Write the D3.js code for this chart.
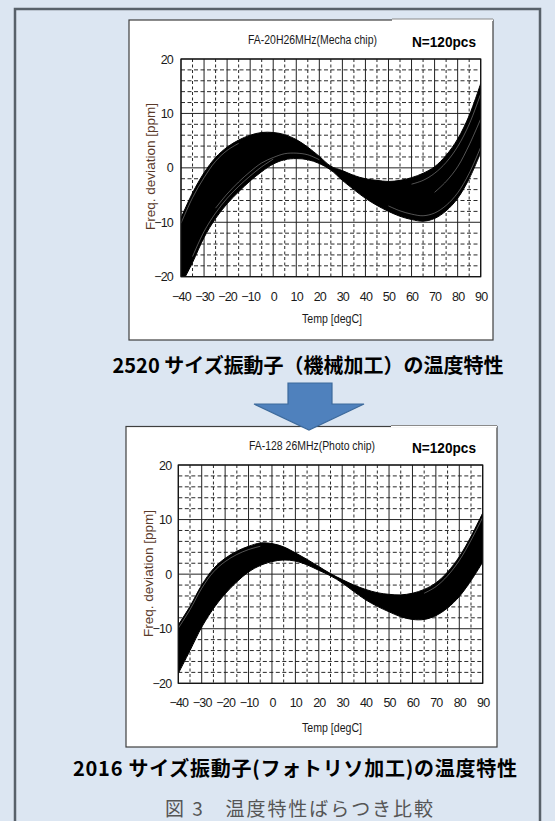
<!DOCTYPE html>
<html>
<head>
<meta charset="utf-8">
<script src="https://cdn.jsdelivr.net/npm/d3@7"></script>
<style>
  html, body { margin: 0; padding: 0; background: #dce6f2; }
  svg { display: block; }
</style>
</head>
<body>
<script>
// Temperature sample points (degC) shared by every curve
const temps = [-40,-35,-30,-25,-20,-15,-10,-5,0,5,10,15,20,25,30,35,40,45,50,55,60,65,70,75,80,85,90];
const xTicks = [-40,-30,-20,-10,0,10,20,30,40,50,60,70,80,90];
const yTicks = [-20,-10,0,10,20];

// 2520 mechanically processed blanks: envelope of the 120 curves (ppm)
const mechaUpper = [-9.2,-4.6,-0.9,1.9,3.8,5.1,6.0,6.5,6.5,6.1,5.2,3.8,2.1,0.3,-0.5,-1.4,-2.0,-2.3,-2.5,-2.3,-1.8,-1.0,0.2,2.3,5.3,9.6,15.5];
const mechaLower = [-21.5,-17.4,-12.8,-9.3,-6.6,-4.4,-2.4,-0.7,0.7,1.5,1.7,1.5,0.8,-0.4,-2.3,-4.0,-5.6,-6.9,-8.0,-8.9,-9.5,-9.8,-9.3,-7.9,-5.6,-2.0,2.8];
// separated individual curves that show as light seams inside the band
const mechaSeams = [
  [-10.2,-5.5,-1.8,1.2,3.2,4.5,null,null,null,null,null,null,null,null,null,null,null,null,null,null,null,null,null,null,null,null,null],
  [null,-16.3,-11.7,-8.3,-5.6,-3.4,-1.5,0.2,1.6,null,null,null,null,null,null,null,null,null,null,null,null,null,null,null,null,null,null],
  [null,null,null,-7.4,-4.8,-2.6,-0.7,0.9,1.9,2.6,2.7,2.4,1.5,null,null,null,null,null,null,null,null,null,null,null,null,null,null],
  [null,null,null,null,null,null,null,null,null,null,null,null,null,null,null,null,null,null,null,null,-3.0,-2.3,-1.0,1.0,3.9,8.0,13.6],
  [null,null,null,null,null,null,null,null,null,null,null,null,null,null,null,null,null,null,-7.0,-7.9,-8.5,-8.8,-8.3,-6.9,-4.6,-1.0,3.8],
  [null,null,null,null,null,null,null,null,null,null,null,null,null,null,null,null,null,null,null,null,null,null,-4.5,-2.5,0.2,4.2,9.0]
];

// 2016 photolithography processed blanks
const photoUpper = [-9.3,-5.9,-2.0,1.0,2.9,4.2,5.1,5.7,5.6,5.0,3.9,2.7,1.4,0.1,-1.0,-2.0,-2.8,-3.4,-3.7,-3.8,-3.5,-2.8,-1.6,0.4,3.2,6.9,11.2];
const photoLower = [-18.2,-14.0,-9.7,-6.3,-3.6,-1.4,0.4,1.6,2.3,2.6,2.4,1.7,0.7,-0.3,-1.6,-3.2,-4.7,-5.9,-6.9,-7.8,-8.3,-8.3,-7.6,-6.2,-4.1,-1.2,2.2];
const photoSeams = [
  [-9.9,-6.5,-2.6,0.4,2.3,3.6,4.5,5.1,null,null,null,null,null,null,null,null,null,null,null,null,null,null,null,null,null,null,null],
  [null,null,null,null,null,null,null,null,null,null,null,null,null,null,null,null,null,null,null,null,null,-3.5,-2.3,-0.3,2.5,6.2,10.4]
];

const W = 555, H = 821;
const svg = d3.select("body").append("svg").attr("width", W).attr("height", H);

// page background and the outer frame
svg.append("rect").attr("width", W).attr("height", H).attr("fill", "#dce6f2");
svg.append("path")
  .attr("d", "M15,821 L15,9 L540,9 L540,821")
  .attr("fill", "none").attr("stroke", "#58616a").attr("stroke-width", 2.5);

const labelFont = "'Liberation Sans', Arial, sans-serif";

function drawPanel(cfg) {
  const g = svg.append("g");
  // white card
  g.append("rect")
    .attr("x", cfg.box[0]).attr("y", cfg.box[1])
    .attr("width", cfg.box[2] - cfg.box[0]).attr("height", cfg.box[3] - cfg.box[1])
    .attr("fill", "#fff").attr("stroke", "#3f3f3f").attr("stroke-width", 1.2);
  // label box overlapping the top edge
  g.append("line")
    .attr("x1", cfg.tag[0]).attr("x2", cfg.box[2])
    .attr("y1", cfg.box[1]).attr("y2", cfg.box[1])
    .attr("stroke", "#fff").attr("stroke-width", 2);
  g.append("line")
    .attr("x1", cfg.tag[0]).attr("x2", cfg.box[2])
    .attr("y1", cfg.box[1] - 1).attr("y2", cfg.box[1] - 1)
    .attr("stroke", "#8a8a8a").attr("stroke-width", 1);

  const x = d3.scaleLinear().domain([-40, 90]).range([cfg.plot[0], cfg.plot[1]]);
  const y = d3.scaleLinear().domain([-20, 20]).range([cfg.plot[3], cfg.plot[2]]);

  const clipId = "clip" + cfg.id;
  g.append("clipPath").attr("id", clipId).append("rect")
    .attr("x", cfg.plot[0]).attr("y", cfg.plot[2])
    .attr("width", cfg.plot[1] - cfg.plot[0]).attr("height", cfg.plot[3] - cfg.plot[2]);

  // dashed minor grid (every 5 degC, every 2 ppm)
  const minorX = d3.range(-35, 90, 10);
  const minorY = d3.range(-18, 20, 2).filter(v => v % 10 !== 0);
  g.append("g").selectAll("line").data(minorX).join("line")
    .attr("x1", d => x(d)).attr("x2", d => x(d))
    .attr("y1", cfg.plot[2]).attr("y2", cfg.plot[3])
    .attr("stroke", "#111").attr("stroke-width", 0.9).attr("stroke-dasharray", "3,2.5");
  g.append("g").selectAll("line").data(minorY).join("line")
    .attr("x1", cfg.plot[0]).attr("x2", cfg.plot[1])
    .attr("y1", d => y(d)).attr("y2", d => y(d))
    .attr("stroke", "#111").attr("stroke-width", 0.9).attr("stroke-dasharray", "4,2.5");
  // solid major grid
  g.append("g").selectAll("line").data(xTicks).join("line")
    .attr("x1", d => x(d)).attr("x2", d => x(d))
    .attr("y1", cfg.plot[2]).attr("y2", cfg.plot[3])
    .attr("stroke", "#222").attr("stroke-width", 1);
  g.append("g").selectAll("line").data(yTicks).join("line")
    .attr("x1", cfg.plot[0]).attr("x2", cfg.plot[1])
    .attr("y1", d => y(d)).attr("y2", d => y(d))
    .attr("stroke", "#222").attr("stroke-width", 1);

  // band of 120 curves
  const rows = temps.map((t, i) => ({ t, hi: cfg.upper[i], lo: cfg.lower[i] }));
  const band = g.append("g").attr("clip-path", `url(#${clipId})`);
  band.append("path").datum(rows)
    .attr("d", d3.area().x(d => x(d.t)).y0(d => y(d.lo)).y1(d => y(d.hi)).curve(d3.curveCatmullRom))
    .attr("fill", "#000").attr("stroke", "#000").attr("stroke-width", 1);
  cfg.seams.forEach(s => {
    const pts = temps.map((t, i) => ({ t, v: s[i] }));
    band.append("path").datum(pts)
      .attr("d", d3.line().defined(d => d.v !== null).x(d => x(d.t)).y(d => y(d.v)).curve(d3.curveCatmullRom))
      .attr("fill", "none").attr("stroke", "#fff").attr("stroke-width", 0.6).attr("stroke-opacity", 0.55);
  });

  // plot frame
  g.append("rect")
    .attr("x", cfg.plot[0]).attr("y", cfg.plot[2])
    .attr("width", cfg.plot[1] - cfg.plot[0]).attr("height", cfg.plot[3] - cfg.plot[2])
    .attr("fill", "none").attr("stroke", "#111").attr("stroke-width", 1.2);

  // axes labels
  const ax = g.append("g").attr("transform", `translate(0,${cfg.plot[3]})`)
    .call(d3.axisBottom(x).tickValues(xTicks).tickSize(0).tickPadding(cfg.xPad));
  ax.select(".domain").remove();
  ax.selectAll("text").attr("font-family", labelFont).attr("font-size", 12.5)
    .attr("fill", "#1a1a1a").attr("letter-spacing", -0.8);
  const ay = g.append("g").attr("transform", `translate(${cfg.plot[0]},0)`)
    .call(d3.axisLeft(y).tickValues(yTicks).tickSize(0).tickPadding(cfg.yPad));
  ay.select(".domain").remove();
  ay.selectAll("text").attr("font-family", labelFont).attr("font-size", 12.5)
    .attr("fill", "#1a1a1a").attr("letter-spacing", -0.8);

  g.append("text").attr("x", cfg.xTitle[0]).attr("y", cfg.xTitle[1])
    .attr("text-anchor", "middle").attr("dominant-baseline", "central")
    .attr("font-family", labelFont).attr("font-size", 12.5)
    .attr("textLength", 60).attr("lengthAdjust", "spacingAndGlyphs")
    .attr("fill", "#1a1a1a").text("Temp [degC]");
  g.append("text")
    .attr("transform", `translate(${cfg.yTitle[0]},${cfg.yTitle[1]}) rotate(-90)`)
    .attr("text-anchor", "middle").attr("dominant-baseline", "central")
    .attr("font-family", labelFont).attr("font-size", 13)
    .attr("textLength", 127).attr("lengthAdjust", "spacingAndGlyphs")
    .attr("fill", "#5a3a2a").text("Freq. deviation [ppm]");

  g.append("text").attr("x", cfg.sub[0]).attr("y", cfg.sub[1])
    .attr("text-anchor", "middle").attr("dominant-baseline", "central")
    .attr("font-family", labelFont).attr("font-size", 12)
    .attr("textLength", cfg.sub[2]).attr("lengthAdjust", "spacingAndGlyphs")
    .attr("fill", "#1a1a1a").text(cfg.subtitle);
  g.append("text").attr("x", 444).attr("y", cfg.sub[1] + 1.5)
    .attr("text-anchor", "middle").attr("dominant-baseline", "central")
    .attr("font-family", labelFont).attr("font-size", 15).attr("font-weight", "bold")
    .attr("textLength", 64).attr("lengthAdjust", "spacingAndGlyphs")
    .attr("fill", "#000").text("N=120pcs");
}

drawPanel({
  id: "a", box: [129, 20, 493, 340], tag: [392],
  plot: [181, 480.7, 59, 276.7],
  upper: mechaUpper, lower: mechaLower, seams: mechaSeams,
  xPad: 15, yPad: 8,
  xTitle: [332, 319], yTitle: [150, 166.5],
  sub: [312.5, 40, 129], subtitle: "FA-20H26MHz(Mecha chip)"
});

drawPanel({
  id: "b", box: [126, 426.5, 497, 747], tag: [391],
  plot: [178.3, 482.7, 465, 683.3],
  upper: photoUpper, lower: photoLower, seams: photoSeams,
  xPad: 15, yPad: 7,
  xTitle: [332, 728], yTitle: [148, 573.5],
  sub: [312, 446, 126], subtitle: "FA-128 26MHz(Photo chip)"
});

// captions
const jpFont = "'Noto Sans CJK JP', sans-serif";
svg.append("text").attr("x", 308).attr("y", 364)
  .attr("text-anchor", "middle").attr("dominant-baseline", "central")
  .attr("font-family", jpFont).attr("font-size", 20).attr("font-weight", "bold")
  .attr("textLength", 391).attr("lengthAdjust", "spacing")
  .attr("fill", "#000").text("2520 サイズ振動子（機械加工）の温度特性");
svg.append("text").attr("x", 295).attr("y", 767)
  .attr("text-anchor", "middle").attr("dominant-baseline", "central")
  .attr("font-family", jpFont).attr("font-size", 20).attr("font-weight", "bold")
  .attr("textLength", 444).attr("lengthAdjust", "spacing")
  .attr("fill", "#000").text("2016 サイズ振動子(フォトリソ加工)の温度特性");
svg.append("text").attr("x", 299).attr("y", 807)
  .attr("text-anchor", "middle").attr("dominant-baseline", "central")
  .attr("font-family", jpFont).attr("font-size", 19)
  .attr("textLength", 268).attr("lengthAdjust", "spacing")
  .attr("fill", "#555").text("図 3　温度特性ばらつき比較");

// downward arrow between the two cards
svg.append("polygon")
  .attr("points", "288,383 332,383 332,404 364,404 309,430 254,404 288,404")
  .attr("fill", "#4f81bd").attr("stroke", "#3d6a9c").attr("stroke-width", 1.2);
</script>
</body>
</html>
